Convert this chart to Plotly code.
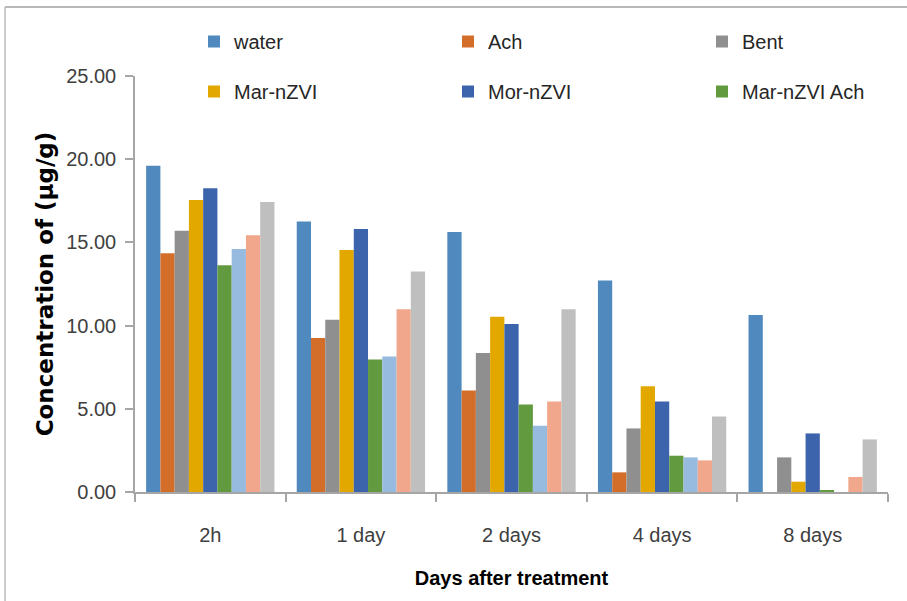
import plotly.graph_objects as go

categories = ["2h", "1 day", "2 days", "4 days", "8 days"]

series_names = ["water", "Ach", "Bent", "Mar-nZVI", "Mor-nZVI", "Mar-nZVI Ach",
                "Series 7", "Series 8", "Series 9"]
water        = [19.60, 16.25, 15.63, 12.71, 10.63]
ach          = [14.35, 9.25, 6.10, 1.18, 0.00]
bent         = [15.70, 10.35, 8.35, 3.82, 2.08]
mar_nzvi     = [17.55, 14.55, 10.53, 6.35, 0.62]
mor_nzvi     = [18.25, 15.80, 10.09, 5.44, 3.52]
mar_nzvi_ach = [13.63, 7.97, 5.26, 2.18, 0.10]
series7      = [14.60, 8.15, 3.98, 2.08, 0.00]
series8      = [15.43, 10.99, 5.44, 1.90, 0.90]
series9      = [17.43, 13.25, 10.99, 4.54, 3.16]

values = [water, ach, bent, mar_nzvi, mor_nzvi, mar_nzvi_ach, series7, series8, series9]
colors = ["#4F89BD", "#D26E2A", "#8F8F8F", "#E2A800", "#3C64AC", "#629A3F",
          "#97BADF", "#F0A78B", "#BFBFBF"]

W, H = 907, 601
L, R, T, B = 135, 888, 76, 492
pw, ph = R - L, B - T

def px(x):
    return (x - L) / pw

def py(y):
    return (B - y) / ph

# legend grid: 3 columns x 2 rows (pixel anchors of each legend box)
legend_cols = [194, 448, 702]
legend_rows = [41.5, 91.5]

FONT = "Liberation Sans, Arial, sans-serif"
tick_font = dict(family=FONT, size=20, color="#404040")
axis_color = "#A6A6A6"

fig = go.Figure()
legends = {}
for i, (name, vals, col) in enumerate(zip(series_names, values, colors)):
    kw = dict(x=categories, y=vals, name=name, marker=dict(color=col, line=dict(width=0)))
    if i < 6:
        lid = "legend" if i == 0 else f"legend{i + 1}"
        kw["legend"] = lid
        legends[lid] = dict(
            x=px(legend_cols[i % 3]), y=py(legend_rows[i // 3]),
            xanchor="left", yanchor="middle", orientation="h",
            font=dict(family=FONT, size=20, color="#262626"),
            bgcolor="rgba(0,0,0,0)", borderwidth=0, itemclick=False,
        )
    else:
        kw["showlegend"] = False
    fig.add_trace(go.Bar(**kw))

fig.update_layout(
    width=W, height=H,
    margin=dict(l=L, r=W - R, t=T, b=H - B, autoexpand=False),
    paper_bgcolor="white", plot_bgcolor="white",
    barmode="group", bargap=0.148, bargroupgap=0,
    showlegend=True,
    xaxis=dict(
        type="category", showline=True, linecolor=axis_color, linewidth=1.5,
        ticks="outside", tickson="boundaries", ticklen=8, tickcolor=axis_color, tickwidth=1.5,
        tickfont=tick_font, ticklabelstandoff=24, showgrid=False, automargin=False,
        title=dict(text="<b>Days after treatment</b>", standoff=26,
                   font=dict(family=FONT, size=20, color="#000000")),
    ),
    yaxis=dict(
        range=[0, 25], dtick=5, tickformat=".2f", showline=True, linecolor=axis_color, linewidth=1.5,
        ticks="outside", ticklen=8, tickcolor=axis_color, tickwidth=1.5,
        tickfont=tick_font, ticklabelstandoff=5, showgrid=False, zeroline=False, automargin=False,
        title=dict(text="<b>Concentration of (µg/g)</b>", standoff=6,
                   font=dict(family="DejaVu Sans, Verdana, sans-serif", size=23, color="#000000")),
    ),
    shapes=[
        dict(type="line", xref="paper", yref="paper", x0=px(5), x1=px(W + 5), y0=py(7), y1=py(7),
             line=dict(color="#A0A0A0", width=1.5)),
        dict(type="line", xref="paper", yref="paper", x0=px(5), x1=px(5), y0=py(7), y1=py(H + 5),
             line=dict(color="#BDBDBD", width=1.5)),
    ],
)
fig.update_layout(**legends)

fig.write_html("out.html")
